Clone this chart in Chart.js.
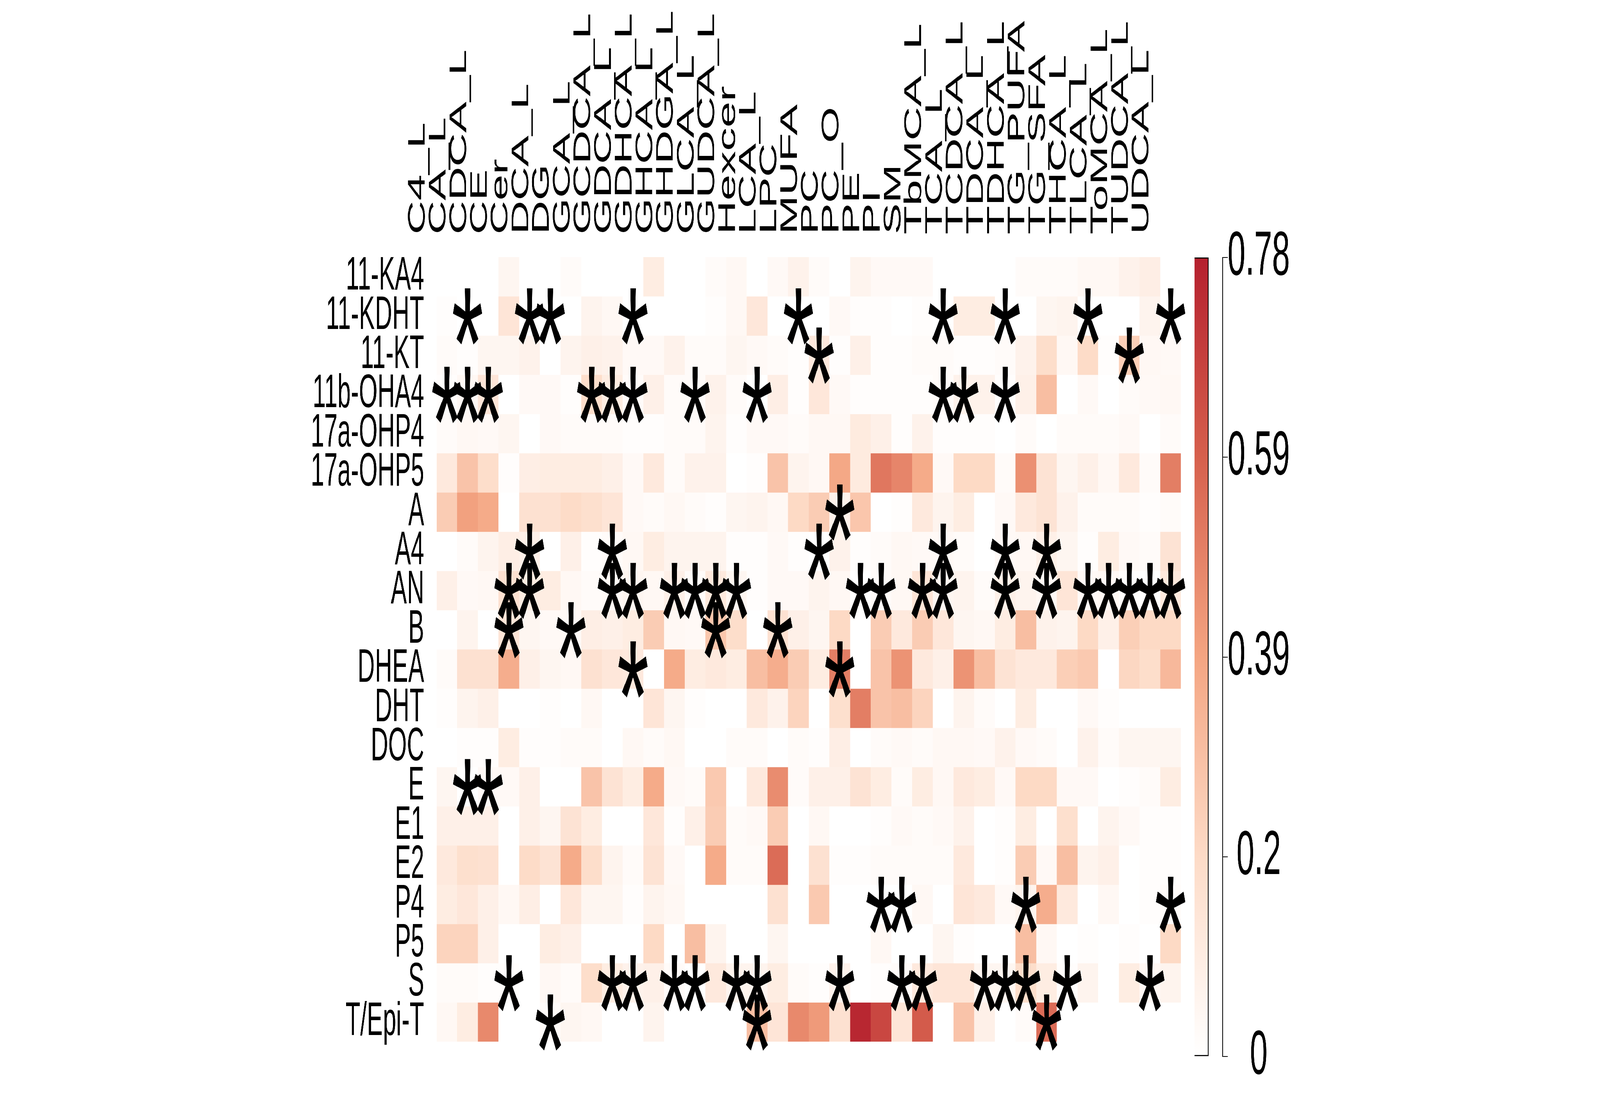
<!DOCTYPE html>
<html>
<head>
<meta charset="utf-8">
<script src="https://cdn.jsdelivr.net/npm/chart.js@4.4.1/dist/chart.umd.min.js"></script>
<style>
  html, body { margin: 0; padding: 0; background: #fff; overflow: hidden; }
  #stage { position: absolute; left: 0; top: 0; width: 8000px; height: 2800px; transform-origin: 0 0; }
  #heat { position: absolute; left: 0; top: 0; }
  #bar { position: absolute; left: 5900px; top: 0; }
</style>
</head>
<body>
<div id="stage">
  <canvas id="heat" width="6000" height="2800"></canvas>
  <canvas id="bar" width="700" height="2800"></canvas>
</div>
<script>
// hormones (rows, top to bottom)
const rows = ['11-KA4', '11-KDHT', '11-KT', '11b-OHA4', '17a-OHP4', '17a-OHP5', 'A', 'A4', 'AN', 'B',
  'DHEA', 'DHT', 'DOC', 'E', 'E1', 'E2', 'P4', 'P5', 'S', 'T/Epi-T'];

// lipids / bile acids (columns, left to right)
const cols = ['C4_L', 'CA_L', 'CDCA_L', 'CE', 'Cer', 'DCA_L', 'DG', 'GCA_L', 'GCDCA_L', 'GDCA_L', 'GDHCA_L', 'GHCA_L',
  'GHDGA_L', 'GLCA_L', 'GUDCA_L', 'Hexcer', 'LCA_L', 'LPC', 'MUFA', 'PC', 'PC_O', 'PE', 'PI', 'SM',
  'TbMCA_L', 'TCA_L', 'TCDCA_L', 'TDCA_L', 'TDHCA_L', 'TG_PUFA', 'TG_SFA', 'THCA_L', 'TLCA_L', 'ToMCA_L', 'TUDCA_L', 'UDCA_L'];

// cell values, one list per row
const values = [
  [0, 0, 0, 0.05, 0, 0, 0.02, 0, 0, 0, 0.1, 0, 0, 0.02, 0.04, 0, 0.03, 0.07, 0.02, 0, 0.06, 0.03, 0.03, 0.03, 0, 0, 0, 0, 0.02, 0.02, 0.02, 0.04, 0.04, 0.07, 0.09, 0],
  [0.01, 0, 0, 0.14, 0, 0, 0, 0.06, 0.04, 0, 0, 0, 0, 0.01, 0.04, 0.13, 0, 0, 0, 0.03, 0.01, 0.01, 0, 0.01, 0, 0.1, 0.1, 0, 0, 0.05, 0.06, 0, 0, 0, 0.06, 0],
  [0.02, 0.01, 0.05, 0.05, 0.07, 0, 0.06, 0.08, 0.07, 0.03, 0.03, 0.07, 0.02, 0.02, 0.05, 0.03, 0.02, 0.01, 0.12, 0.01, 0.08, 0.01, 0.01, 0.02, 0.02, 0.01, 0.01, 0.02, 0.07, 0.18, 0.04, 0.19, 0.01, 0.24, 0.04, 0.03],
  [0.01, 0.04, 0.14, 0, 0.03, 0.03, 0.01, 0.18, 0.1, 0.02, 0.08, 0.02, 0.02, 0.07, 0.02, 0, 0.09, 0.01, 0.13, 0.03, 0.01, 0.01, 0.01, 0.01, 0.02, 0.07, 0.07, 0.01, 0.08, 0.3, 0, 0.03, 0, 0.02, 0.03, 0.04],
  [0.02, 0.04, 0.03, 0.05, 0, 0.03, 0.02, 0.02, 0.02, 0.01, 0.01, 0.02, 0.02, 0.06, 0.01, 0.03, 0.03, 0.02, 0.04, 0.04, 0.11, 0.08, 0.01, 0.07, 0.01, 0.01, 0.01, 0, 0.02, 0, 0.02, 0.02, 0.02, 0.03, 0, 0.02],
  [0.12, 0.28, 0.18, 0.01, 0.09, 0.1, 0.1, 0.1, 0.08, 0.03, 0.12, 0.02, 0.07, 0.07, 0, 0.01, 0.28, 0.06, 0.04, 0.38, 0.11, 0.52, 0.48, 0.37, 0.03, 0.2, 0.2, 0.02, 0.45, 0.15, 0.05, 0.08, 0.04, 0.12, 0.02, 0.5],
  [0.25, 0.4, 0.37, 0, 0.16, 0.16, 0.19, 0.17, 0.14, 0.03, 0.02, 0.04, 0.02, 0.01, 0.05, 0.06, 0.04, 0.2, 0.25, 0.07, 0.27, 0, 0.01, 0.12, 0.06, 0.1, 0, 0.03, 0.12, 0.15, 0.07, 0.02, 0.02, 0.02, 0.01, 0.02],
  [0, 0.02, 0.06, 0.09, 0.08, 0, 0.08, 0.01, 0.02, 0.04, 0.1, 0.06, 0.06, 0.06, 0.01, 0.01, 0.03, 0.01, 0, 0.07, 0.01, 0.02, 0.04, 0.03, 0.03, 0.02, 0, 0.03, 0.04, 0.08, 0.05, 0.01, 0.1, 0.03, 0.02, 0.15],
  [0.08, 0.03, 0.04, 0.16, 0.1, 0.1, 0.04, 0.02, 0.03, 0.05, 0.04, 0.08, 0.02, 0.12, 0.05, 0.01, 0.03, 0.03, 0.06, 0.04, 0, 0.02, 0.04, 0.14, 0.05, 0.06, 0.02, 0.08, 0.06, 0.04, 0.14, 0.03, 0.04, 0.01, 0, 0.12],
  [0, 0.06, 0, 0.14, 0.05, 0.03, 0.03, 0.09, 0.08, 0.1, 0.25, 0.04, 0.03, 0.27, 0.18, 0, 0.16, 0.08, 0.05, 0.2, 0, 0.25, 0.12, 0.25, 0.13, 0.05, 0.04, 0.1, 0.3, 0.07, 0.06, 0.2, 0.08, 0.24, 0.2, 0.2],
  [0.02, 0.16, 0.16, 0.36, 0.08, 0.05, 0.04, 0.16, 0.13, 0.12, 0, 0.37, 0.1, 0.12, 0.1, 0.3, 0.36, 0.25, 0.1, 0.5, 0, 0.28, 0.44, 0.12, 0.08, 0.44, 0.3, 0.15, 0.12, 0.12, 0.24, 0.26, 0, 0.21, 0.18, 0.32],
  [0.01, 0.06, 0.08, 0, 0, 0.01, 0, 0.04, 0, 0, 0.14, 0.05, 0.01, 0, 0, 0.12, 0.07, 0.22, 0, 0.17, 0.5, 0.28, 0.3, 0.22, 0, 0.06, 0.02, 0, 0.1, 0, 0, 0.03, 0.01, 0, 0, 0],
  [0, 0.01, 0.01, 0.1, 0.01, 0.01, 0.02, 0.02, 0, 0.04, 0.02, 0.04, 0, 0, 0.02, 0.02, 0, 0.02, 0.01, 0.09, 0, 0.02, 0.03, 0.02, 0.04, 0.04, 0.03, 0.07, 0.03, 0.02, 0, 0.07, 0.02, 0.05, 0.05, 0.05],
  [0.05, 0, 0.03, 0.03, 0.08, 0, 0, 0.28, 0.15, 0.1, 0.37, 0.03, 0.02, 0.26, 0, 0.12, 0.46, 0.02, 0.08, 0.08, 0.15, 0.1, 0.02, 0.1, 0.04, 0.12, 0.1, 0.03, 0.2, 0.2, 0.03, 0.03, 0, 0.01, 0.02, 0.1],
  [0.08, 0.08, 0.08, 0, 0.08, 0.05, 0.15, 0.1, 0, 0, 0.13, 0.01, 0.08, 0.25, 0.02, 0.03, 0.25, 0, 0.04, 0, 0, 0.01, 0.03, 0.02, 0.03, 0.07, 0, 0.01, 0.1, 0, 0.17, 0, 0.06, 0.03, 0.01, 0.01],
  [0.12, 0.17, 0.16, 0, 0.19, 0.15, 0.37, 0.18, 0.06, 0.02, 0.15, 0.03, 0, 0.37, 0.02, 0.02, 0.55, 0, 0.16, 0.01, 0.01, 0.02, 0.02, 0.02, 0.02, 0.12, 0, 0.01, 0.25, 0.03, 0.3, 0.06, 0.08, 0, 0.01, 0.01],
  [0.1, 0.13, 0.08, 0.04, 0.09, 0, 0.13, 0.05, 0.05, 0.01, 0.06, 0.04, 0, 0, 0, 0, 0.16, 0, 0.26, 0, 0, 0, 0, 0.04, 0, 0.14, 0.12, 0.03, 0.06, 0.36, 0.12, 0, 0.04, 0, 0.01, 0.02],
  [0.22, 0.22, 0.08, 0, 0, 0.1, 0.08, 0, 0, 0, 0.2, 0, 0.3, 0.06, 0, 0, 0.05, 0, 0, 0, 0, 0.04, 0, 0, 0.05, 0.01, 0, 0, 0.3, 0.04, 0, 0.01, 0, 0.01, 0, 0.2],
  [0.02, 0.02, 0.01, 0.01, 0, 0.04, 0.02, 0.18, 0.1, 0.07, 0.08, 0.02, 0, 0.12, 0.06, 0.06, 0.1, 0.02, 0.01, 0.07, 0, 0.01, 0.02, 0.12, 0.14, 0.14, 0.05, 0.05, 0.18, 0.1, 0.01, 0.06, 0, 0.1, 0.04, 0.06],
  [0.04, 0.1, 0.47, 0, 0, 0.02, 0.05, 0.04, 0, 0, 0.06, 0, 0, 0, 0, 0.3, 0.14, 0.47, 0.42, 0.16, 0.76, 0.66, 0.14, 0.6, 0, 0.28, 0.08, 0, 0.02, 0.55, 0, 0, 0, 0, 0, 0]
];

// columns marked with * in each row
const stars = [
  [],
  [1, 4, 5, 9, 17, 24, 27, 31, 35],
  [18, 33],
  [0, 1, 2, 7, 8, 9, 12, 15, 24, 25, 27],
  [],
  [],
  [19],
  [4, 8, 18, 24, 27, 29],
  [3, 4, 8, 9, 11, 12, 13, 14, 20, 21, 23, 24, 27, 29, 31, 32, 33, 34, 35],
  [3, 6, 13, 16],
  [9, 19],
  [],
  [],
  [1, 2],
  [],
  [],
  [21, 22, 28, 35],
  [],
  [3, 8, 9, 11, 12, 14, 15, 19, 22, 23, 26, 27, 28, 30, 34],
  [5, 15, 29]
];

// colour bar
const barMax = 0.78;
const barTicks = [0, 0.195, 0.39, 0.585, 0.78];
const barTickLabels = ['0', '0.2', '0.39', '0.59', '0.78'];

const FONT = '"Liberation Sans", Arial, Helvetica, sans-serif';
const ramp = [
  [0, [255, 255, 255]],
  [0.195, [253, 219, 199]],
  [0.39, [244, 165, 130]],
  [0.585, [214, 96, 77]],
  [0.78, [181, 32, 46]]
];

// the drawing is laid out on an 8000 x 2800 stage; stretch it onto the real viewport
const stage = document.getElementById('stage');
const sx = (window.innerWidth || 8000) / 8000;
const sy = (window.innerHeight || 2800) / 2800;
stage.style.transform = 'scale(' + sx + ',' + sy + ')';

function colorFor(v) {
  if (v <= ramp[0][0]) return 'rgb(' + ramp[0][1].join(',') + ')';
  for (let i = 1; i < ramp.length; i++) {
    if (v <= ramp[i][0]) {
      const [a, ca] = ramp[i - 1];
      const [b, cb] = ramp[i];
      const t = (v - a) / (b - a);
      const c = ca.map((x, k) => Math.round(x + (cb[k] - x) * t));
      return 'rgb(' + c.join(',') + ')';
    }
  }
  return 'rgb(' + ramp[ramp.length - 1][1].join(',') + ')';
}

// draws the * marks on top of the cells
const starPlugin = {
  id: 'stars',
  afterDatasetsDraw(chart) {
    const { ctx, scales } = chart;
    const x = scales.x, y = scales.y;
    ctx.save();
    ctx.font = '410px ' + FONT;
    ctx.fillStyle = '#000';
    ctx.textAlign = 'left';
    ctx.textBaseline = 'alphabetic';
    const m = ctx.measureText('*');
    const offX = (m.actualBoundingBoxRight - m.actualBoundingBoxLeft) / 2;
    const offY = (m.actualBoundingBoxAscent - m.actualBoundingBoxDescent) / 2;
    stars.forEach((list, r) => {
      list.forEach(c => {
        const cx = x.getPixelForValue(c);
        const cy = y.getPixelForValue(r + 0.5);
        ctx.fillText('*', cx - offX, cy + offY);
      });
    });
    ctx.restore();
  }
};

new Chart(document.getElementById('heat'), {
  type: 'bar',
  data: {
    labels: cols,
    datasets: rows.map((name, r) => ({
      label: name,
      data: values[r].map((v, c) => ({ x: cols[c], y: 1, v: v })),
      backgroundColor: values[r].map(colorFor),
      borderWidth: 0,
      barPercentage: 1,
      categoryPercentage: 1
    }))
  },
  options: {
    responsive: false,
    animation: false,
    devicePixelRatio: 1,
    layout: { padding: { left: 0, top: 0, right: 95, bottom: 62 } },
    plugins: { legend: { display: false }, tooltip: { enabled: false } },
    scales: {
      x: {
        type: 'category',
        position: 'top',
        stacked: true,
        grid: { display: false, drawTicks: false },
        border: { display: false },
        ticks: {
          autoSkip: false, minRotation: 90, maxRotation: 90, padding: 58,
          color: '#000', font: { size: 120, family: FONT }
        },
        afterFit: s => { s.height = 658; }
      },
      y: {
        type: 'linear',
        stacked: true,
        display: false,
        min: 0, max: 20,
        reverse: true
      },
      rows: {
        type: 'category',
        labels: rows,
        position: 'left',
        offset: true,
        grid: { display: false, drawTicks: false },
        border: { display: false },
        ticks: { autoSkip: false, padding: 62, color: '#000', font: { size: 120, family: FONT } },
        afterFit: s => { s.width = 2183; }
      }
    }
  },
  plugins: [starPlugin]
});

new Chart(document.getElementById('bar'), {
  type: 'bar',
  data: {
    labels: ['scale'],
    datasets: [{
      data: [barMax],
      borderWidth: 3,
      borderColor: '#000',
      borderSkipped: false,
      barPercentage: 1,
      categoryPercentage: 1,
      backgroundColor: ctx => {
        const chart = ctx.chart;
        const area = chart.chartArea;
        if (!area) return '#fff';
        const ys = chart.scales.y;
        const g = chart.ctx.createLinearGradient(0, ys.getPixelForValue(0), 0, ys.getPixelForValue(barMax));
        ramp.forEach(([v, c]) => g.addColorStop(v / barMax, 'rgb(' + c.join(',') + ')'));
        return g;
      }
    }]
  },
  options: {
    responsive: false,
    animation: false,
    devicePixelRatio: 1,
    layout: { padding: { left: 72, top: 659, right: 0, bottom: 63 } },
    plugins: { legend: { display: false }, tooltip: { enabled: false } },
    scales: {
      x: { display: false, offset: false },
      y: {
        position: 'right',
        min: 0, max: barMax,
        grid: { drawOnChartArea: false, drawTicks: true, tickLength: 25, color: '#000', lineWidth: 2 },
        border: { display: true, color: '#000', width: 3 },
        afterBuildTicks: s => { s.ticks = barTicks.map(v => ({ value: v })); },
        ticks: {
          crossAlign: 'center', padding: 0, color: '#000',
          font: { size: 160, family: FONT },
          callback: (v, i) => barTickLabels[i]
        },
        afterFit: s => { s.width = 487; }
      }
    }
  }
});
</script>
</body>
</html>
